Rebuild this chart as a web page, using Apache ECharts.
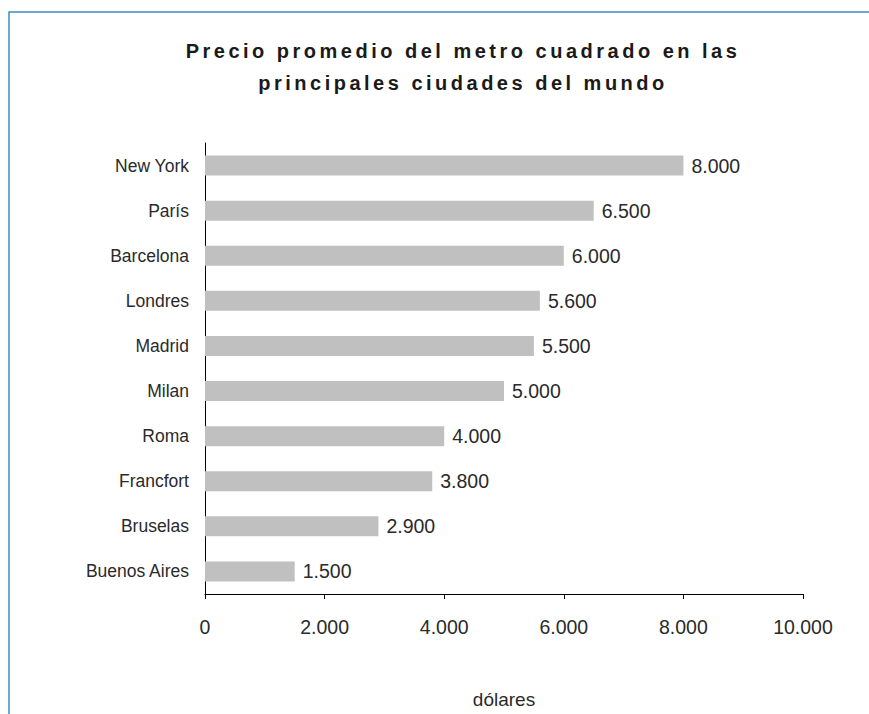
<!DOCTYPE html>
<html><head><meta charset="utf-8">
<script src="https://cdn.jsdelivr.net/npm/echarts@6/dist/echarts.min.js"></script>
<style>html,body{margin:0;padding:0;background:#fff}#c{width:869px;height:714px}</style>
</head><body><div id="c"></div>
<script>
const titleLines = ['Precio promedio del metro cuadrado en las', 'principales ciudades del mundo'];
const cities = ['Buenos Aires','Bruselas','Francfort','Roma','Milan','Madrid','Londres','Barcelona','París','New York'];
const prices = [1500, 2900, 3800, 4000, 5000, 5500, 5600, 6000, 6500, 8000];
const xTicks = [0, 2000, 4000, 6000, 8000, 10000];
const xName = 'dólares';

const fmt = v => String(v).replace(/\B(?=(\d{3})+(?!\d))/g, '.');
const FONT = '"Liberation Sans", Arial, Helvetica, sans-serif';

const chart = echarts.init(document.getElementById('c'), null, {renderer: 'svg'});
chart.setOption({
  animation: false,
  backgroundColor: '#fff',
  textStyle: {fontFamily: FONT},
  title: {
    text: titleLines.join('\n'),
    left: 458, top: 30, textAlign: 'center',
    textStyle: {fontSize: 20, fontWeight: 'bold', color: '#1a1a1a', lineHeight: 32, fontFamily: FONT}
  },
  graphic: [{
    type: 'polyline', silent: true,
    shape: {points: [[9, 714], [9, 12], [869, 12]]},
    style: {stroke: '#3b8cc4', lineWidth: 1.5, fill: null}
  }],
  grid: {left: 205, right: 66, top: 143, bottom: 116, containLabel: false},
  xAxis: {
    type: 'value', min: xTicks[0], max: xTicks[xTicks.length - 1], interval: xTicks[1] - xTicks[0],
    name: xName, nameLocation: 'middle', nameGap: 96,
    nameTextStyle: {fontSize: 19, color: '#2a2a2a'},
    axisLine: {show: true, lineStyle: {color: '#000', width: 1}},
    axisTick: {show: true, length: 5, lineStyle: {color: '#000'}},
    axisLabel: {fontSize: 19.5, color: '#2a2a2a', margin: 23, formatter: v => fmt(v)},
    splitLine: {show: false}
  },
  yAxis: {
    type: 'category', data: cities,
    axisLine: {show: true, lineStyle: {color: '#000', width: 1}},
    axisTick: {show: false},
    axisLabel: {fontSize: 17.5, color: '#2a2a2a', margin: 16}
  },
  series: [{
    type: 'bar', data: prices, barWidth: 20,
    itemStyle: {color: '#c0c0c0'},
    label: {show: true, position: 'right', distance: 8, fontSize: 19.5, color: '#2a2a2a', formatter: p => fmt(p.value)}
  }]
});
// letter-spacing for title lines (SVG renderer)
document.querySelectorAll('#c text').forEach(t => {
  if (titleLines.includes(t.textContent)) t.style.letterSpacing = '3.5px';
});
</script></body></html>
